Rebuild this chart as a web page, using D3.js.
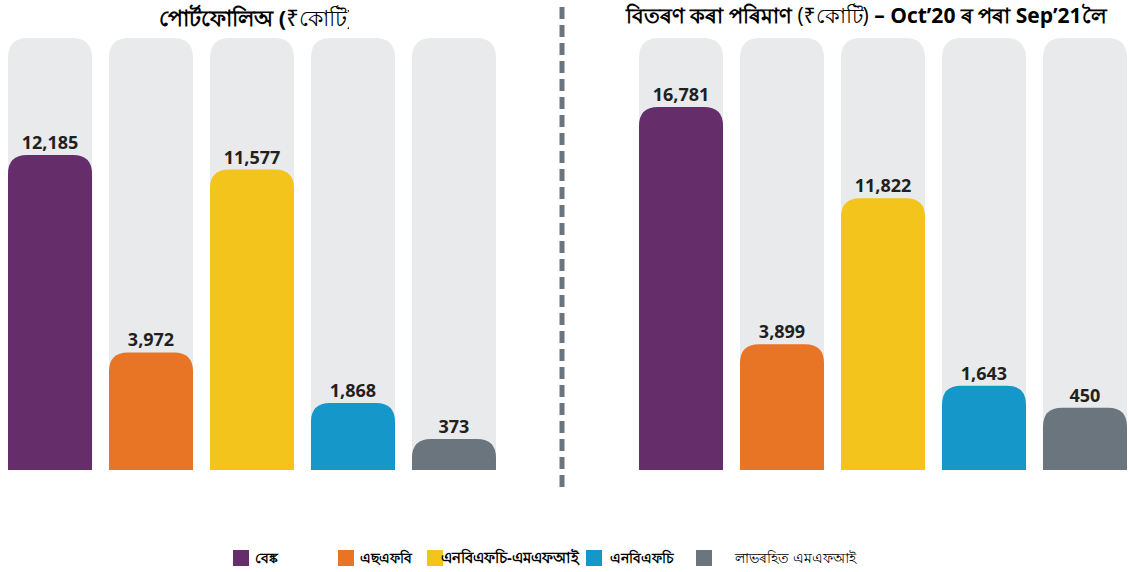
<!DOCTYPE html>
<html>
<head>
  <script src="https://d3js.org/d3.v7.min.js"></script>
  <style>
    body { margin: 0; background: #fff; }
    text { font-family: "Open Sans", "Noto Sans", sans-serif; }
  </style>
</head>
<body>
<svg width="1129" height="572"></svg>
<script>
  let categories = ["বেঙ্ক", "এছএফবি", "এনবিএফচি-এমএফআই", "এনবিএফচি", "লাভৰহিত এমএফআই"],
    colors = ["#652e6b", "#e87425", "#f2c41c", "#1597ca", "#6b757d"],
    portfolio = [12185, 3972, 11577, 1868, 373],
    disbursed = [16781, 3899, 11822, 1643, 450];

  let svg = d3.select("svg"),
    base = 470,
    top_y = 38;

  // top-rounded bar path
  function roundTop(x, y, w, h, r) {
    r = Math.min(r, h, w / 2);
    return `M${x},${y + h}V${y + r}Q${x},${y} ${x + r},${y}H${x + w - r}Q${x + w},${y} ${x + w},${y + r}V${y + h}Z`;
  }

  function panel(values, x0, x1, minH, maxH) {
    let x = d3.scaleBand().domain(categories).range([x0, x1]).paddingInner(0.168);
    let y = d3.scaleLinear().domain([0, d3.max(values)]).range([base - minH, base - maxH]);
    let g = svg.append("g");

    g.selectAll(".bg").data(categories).enter()
      .append("path")
      .attr("d", d => roundTop(x(d), top_y, x.bandwidth(), base - top_y, 20))
      .attr("fill", "#e9eaec");

    g.selectAll(".bar").data(values).enter()
      .append("path")
      .attr("d", (d, i) => roundTop(x(categories[i]), y(d), x.bandwidth(), base - y(d), 19))
      .attr("fill", (d, i) => colors[i]);

    g.selectAll(".lbl").data(values).enter()
      .append("text")
      .attr("x", (d, i) => x(categories[i]) + x.bandwidth() / 2)
      .attr("y", d => y(d) - 6)
      .attr("text-anchor", "middle")
      .attr("font-size", "18px")
      .attr("font-weight", "bold")
      .attr("fill", "#231f20")
      .text(d => d3.format(",")(d));
  }

  panel(portfolio, 8, 496, 22, 315);
  panel(disbursed, 639, 1127, 54, 363);

  // divider
  svg.append("line")
    .attr("x1", 562).attr("x2", 562).attr("y1", 7).attr("y2", 493)
    .attr("stroke", "#6b757d").attr("stroke-width", 5)
    .attr("stroke-dasharray", "12,6");

  // titles (left one is cut off in the original)
  svg.append("clipPath").attr("id", "tclip")
    .append("rect").attr("x", 0).attr("y", 0).attr("width", 349).attr("height", 36);
  let t1 = svg.append("text").attr("x", 159).attr("y", 26)
    .attr("clip-path", "url(#tclip)").attr("fill", "#000");
  t1.append("tspan").attr("font-size", "22px").attr("font-weight", "bold").text("পোৰ্টফোলিঅ (");
  t1.append("tspan").attr("font-size", "22px").text("₹কোটি)");

  let t2 = svg.append("text").attr("x", 626).attr("y", 23).attr("fill", "#000");
  t2.append("tspan").attr("font-size", "21px").attr("font-weight", "bold").text("বিতৰণ কৰা পৰিমাণ ");
  t2.append("tspan").attr("font-size", "21px").text("(₹কোটি) ");
  t2.append("tspan").attr("font-size", "21px").attr("font-weight", "bold").text("– Oct’20 ");
  t2.append("tspan").attr("font-size", "21px").attr("font-weight", "bold").text("ৰ পৰা ");
  t2.append("tspan").attr("font-size", "21px").attr("font-weight", "bold").text("Sep’21");
  t2.append("tspan").attr("font-size", "21px").attr("font-weight", "bold").text("লৈ");

  // legend
  let legendX = [233, 338, 427, 586, 696],
    legendTextX = [255, 360, 441, 610, 735];
  let lg = svg.append("g");
  lg.selectAll("rect").data(categories).enter()
    .append("rect")
    .attr("x", (d, i) => legendX[i]).attr("y", 550)
    .attr("width", 16).attr("height", 16)
    .attr("fill", (d, i) => colors[i]);
  lg.selectAll("text").data(categories).enter()
    .append("text")
    .attr("x", (d, i) => legendTextX[i]).attr("y", 563)
    .attr("font-size", (d, i) => i == 2 ? "15px" : "14px")
    .attr("font-weight", (d, i) => i < 4 ? "bold" : "normal")
    .attr("fill", "#000")
    .text(d => d);
</script>
</body>
</html>
